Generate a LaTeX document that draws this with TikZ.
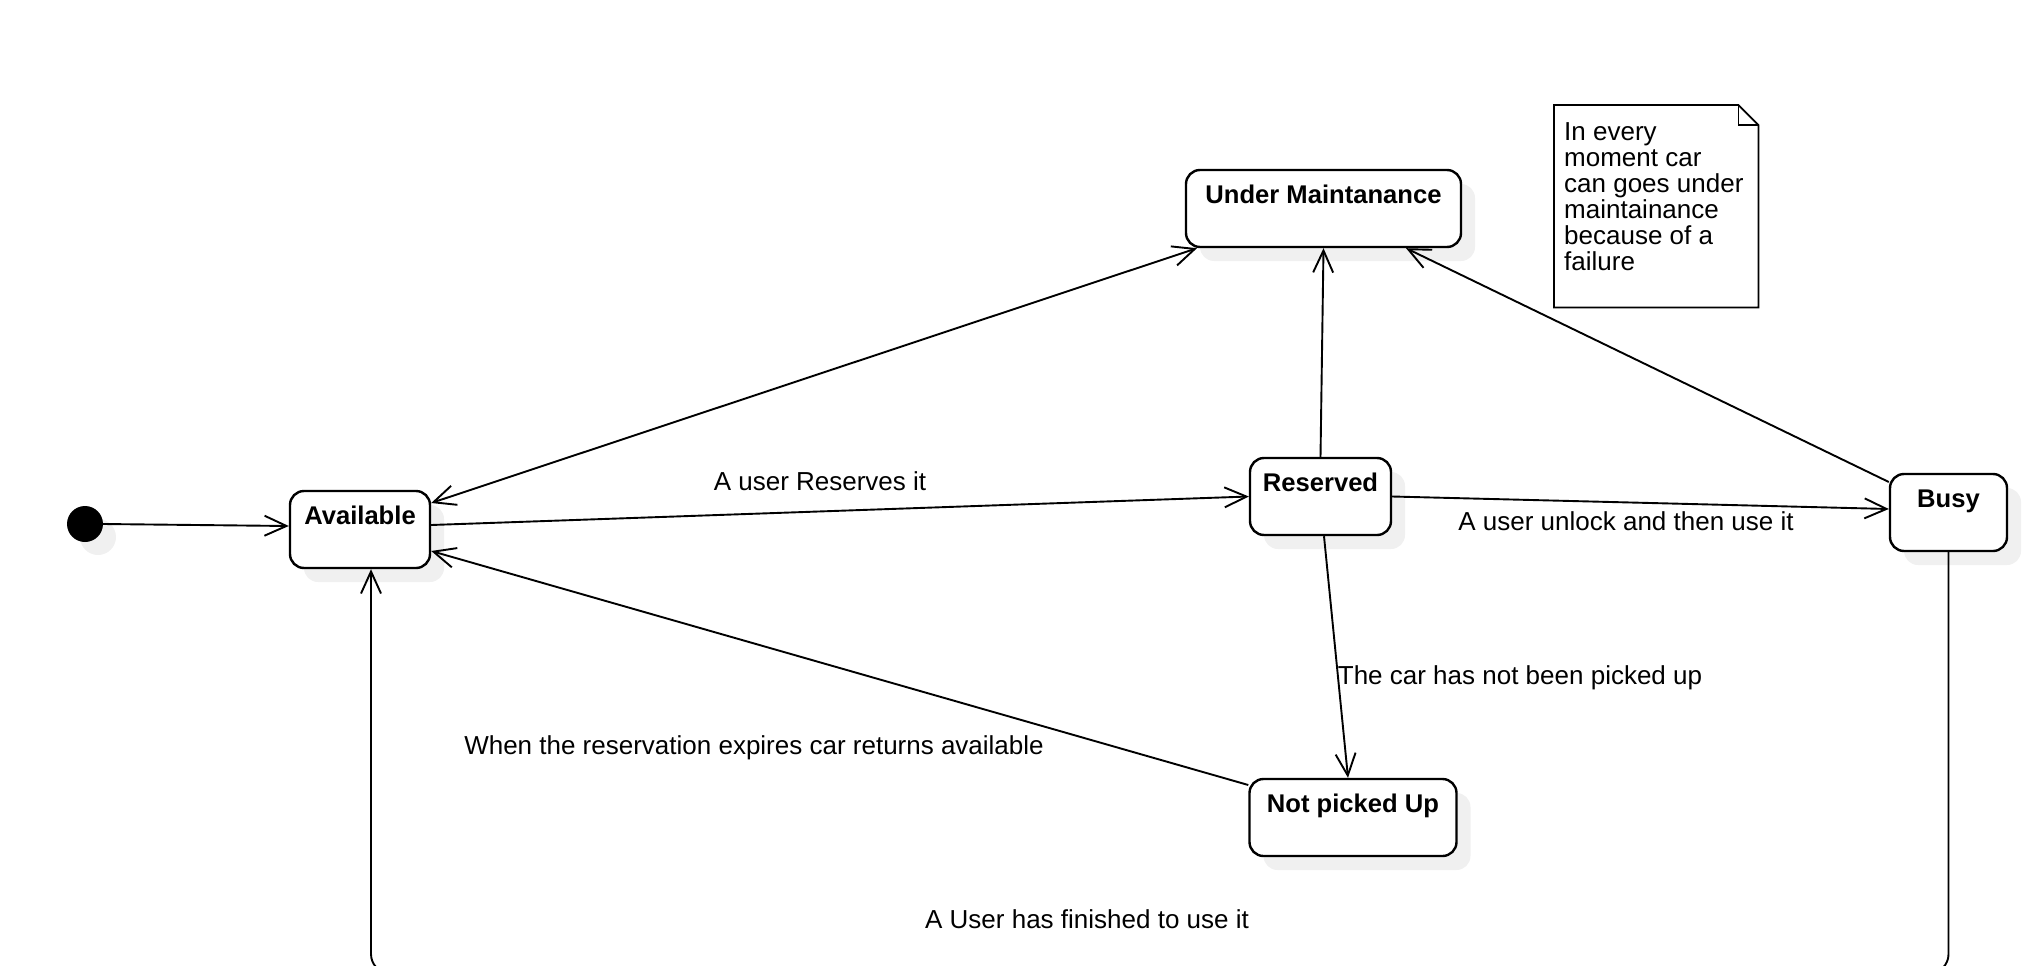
\documentclass[tikz,border=0pt]{standalone}
\usepackage{fontspec}
\setmainfont{Liberation Sans}
\usetikzlibrary{arrows.meta,shadows}
\begin{document}
\begin{tikzpicture}[x=1pt,y=-1pt,
  txt/.style={font=\fontsize{26}{26}\selectfont, inner sep=0pt},
  statebox/.style={draw, line width=2.4pt, rounded corners=14pt, fill=white,
    inner sep=0pt, text height=33pt, text depth=44pt,
    font=\fontsize{25.6}{26}\selectfont\bfseries,
    general shadow={fill=black!6, shadow xshift=14pt, shadow yshift=-14pt}},
  trans/.style={line width=1.9pt, -{Straight Barb[length=22pt,width=20pt]}},
  lbl/.style={txt}]
\useasboundingbox (0,0) rectangle (2042,966);
\clip (0,0) rectangle (2042,966);

% initial pseudo-state
\node[circle, fill=black, minimum size=36pt, inner sep=0pt,
  general shadow={fill=black!6, shadow xshift=13pt, shadow yshift=-13pt}] (init) at (85,524) {};

% states
\node[statebox, minimum width=140pt] (avail) at (360,529.5) {Available};
\node[statebox, minimum width=275pt] (um) at (1323.5,208.5) {Under Maintanance};
\node[statebox, minimum width=141pt] (res) at (1320.5,496.5) {Reserved};
\node[statebox, minimum width=117pt] (busy) at (1948.5,512.5) {Busy};
\node[statebox, minimum width=207pt] (npu) at (1353,817.5) {Not picked Up};

% comment note with folded corner
\node[minimum width=204pt, minimum height=202pt, inner sep=0pt, anchor=north west] (note) at (1554,105) {};
\draw[line width=1.8pt] (note.north west) -- ([xshift=-20pt]note.north east)
  -- ([yshift=-20pt]note.north east) -- (note.south east) -- (note.south west) -- cycle;
\draw[line width=1.8pt] ([xshift=-20pt]note.north east) |- ([yshift=-20pt]note.north east);
\node[txt, anchor=north west, align=left] (notetext) at (1564,122)
  {In every\\moment car\\can goes under\\maintainance\\because of a\\failure};

% transitions
\draw[trans] (init.east) -- ([yshift=3.5pt]avail.west);
\draw[trans, {Straight Barb[length=22pt,width=20pt]}-{Straight Barb[length=22pt,width=20pt]}]
  ([yshift=26.5pt]avail.east) -- ([xshift=-126.5pt]um.south);
\draw[trans] ([yshift=4.5pt]avail.east) -- (res.west);
\draw[trans] (res.north) -- (um.south);
\draw[trans] (res.east) -- ([yshift=3.5pt]busy.west);
\draw[trans] ([yshift=30.5pt]busy.west) -- ([xshift=82.5pt]um.south);
\draw[trans] ([xshift=3.5pt]res.south) -- ([xshift=-5pt]npu.north);
\draw[trans] ([yshift=32.5pt]npu.west) -- ([yshift=-21.5pt]avail.east);
\draw[trans, rounded corners=19pt] (busy.south) -- ++(0,421) -| ([xshift=11pt]avail.south);

% transition labels
\node[lbl] (l1) at (820,481) {A user Reserves it};
\node[lbl] (l2) at (1626,521) {A user unlock and then use it};
\node[lbl] (l3) at (1520,677.5) {The car has not been picked up};
\node[lbl] (l4) at (754,747.5) {When the reservation expires car returns available};
\node[lbl] (l5) at (1087,919) {A User has finished to use it};
\end{tikzpicture}
\end{document}
